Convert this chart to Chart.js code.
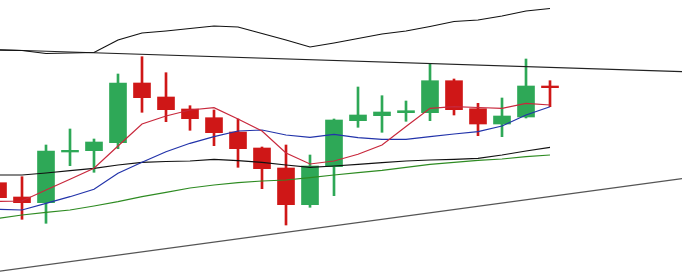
<!DOCTYPE html>
<html>
<head>
<meta charset="utf-8">
<script src="https://cdn.jsdelivr.net/npm/chart.js@4.4.1/dist/chart.umd.min.js"></script>
<style>
html,body{margin:0;padding:0;background:#fff;overflow:hidden;}
#wrap{width:682px;height:275px;position:relative;}
</style>
</head>
<body>
<div id="wrap"><canvas id="c"></canvas></div>
<script>
// Candle index (session number)
const sessions = [0,1,2,3,4,5,6,7,8,9,10,11,12,13,14,15,16,17,18,19,20,21,22,23];
// OHLC values
const opens  = [92.3,78.0,72.3,123.0,124.3,132.3,192.0,178.0,166.0,157.3,143.0,127.0,107.0,70.3,108.3,154.3,159.3,162.3,162.3,194.3,166.3,151.0,158.0,189.0];
const highs  = [99.0,98.3,130.0,146.0,136.0,201.0,218.3,202.3,169.3,165.0,156.0,128.0,130.0,120.0,156.0,188.0,179.3,174.0,211.7,196.0,171.7,177.0,216.0,194.3];
const lows   = [71.0,55.7,51.7,109.3,102.7,126.3,162.7,153.3,144.7,129.3,107.7,86.3,50.0,67.7,79.3,147.7,142.7,153.7,154.3,160.0,139.3,138.3,157.0,168.3];
const closes = [77.3,72.3,124.0,124.7,133.0,192.0,177.3,165.3,156.3,142.3,126.3,106.3,70.3,109.0,155.0,160.0,163.0,164.3,194.3,165.3,151.0,159.0,189.0,187.3];
// Moving averages / bands
const maShort  = [73.5,74,85,95.7,106.7,129,151,159,165,167.3,156,144,122,111,114,120.7,130,148.5,166.7,168.3,167.5,166.7,171.7,170];
const maMid    = [65.7,65,71.7,78.3,85.7,101.7,112.7,123.3,131.7,138.3,144,145,140,137.7,140.7,137.3,135.7,135.7,138.3,141,143.3,149,160,168.3];
const maLong   = [100,100,102,104.3,106.7,110,112.7,113.5,114,115.7,114.3,112.7,110,107.7,109,110.7,112.3,114,115,115.7,116.7,120,124,127.7];
const maSlow   = [56.7,60,62.7,65,69,73.3,78.3,82.7,87,90,92.3,94,95,97.3,100,102.3,104.7,107.7,110.7,112.7,114.7,116,118.3,120];
const upperBand = [225,224.5,221.5,222,222.5,235,242,244,246.5,249,248,241.5,235,228,232,236.5,241,244,248.5,253.5,255,259,264,266.5];
// Trend lines: [x, value] end points
const trendTopX = [0, 28.5];
const trendTopY = [225.3, 203.4];
const trendLowX = [0, 28.5];
const trendLowY = [3.7, 96.4];

const UP = '#2ea857', DOWN = '#cf1717';
const colorFor = sessions.map((s,i)=> closes[i] >= opens[i] ? UP : DOWN);
const pts = arr => sessions.map((s,i)=>({x:s, y:arr[i]}));
const lineDs = (arr, color, w) => ({type:'line', data: pts(arr), borderColor: color, borderWidth: w, pointRadius: 0, tension: 0, fill:false, order: 0});

new Chart(document.getElementById('c'), {
  type: 'bar',
  data: {
    datasets: [
      lineDs(maShort, '#c8283c', 1.2),
      lineDs(maMid, '#2233aa', 1.2),
      lineDs(maLong, '#111111', 1.2),
      lineDs(maSlow, '#2e8b22', 1.2),
      lineDs(upperBand, '#111111', 1.2),
      {type:'line', data: trendTopX.map((x,i)=>({x, y: trendTopY[i]})), borderColor:'#222222', borderWidth:1.2, pointRadius:0, order:0},
      {type:'line', data: trendLowX.map((x,i)=>({x, y: trendLowY[i]})), borderColor:'#555555', borderWidth:1.2, pointRadius:0, order:0},
      {type:'bar', data: sessions.map((s,i)=>({x:s, y:[opens[i], closes[i]]})), backgroundColor: colorFor, borderWidth:0, barThickness:17, grouped:false, order:1},
      {type:'bar', data: sessions.map((s,i)=>({x:s, y:[lows[i], highs[i]]})), backgroundColor: colorFor, borderWidth:0, barThickness:2, grouped:false, order:2}
    ]
  },
  options: {
    responsive: true,
    maintainAspectRatio: false,
    animation: false,
    layout: {padding: 0},
    plugins: {legend:{display:false}, tooltip:{enabled:false}},
    scales: {
      x: {type:'linear', min: 2/24, max: 28.5, offset:false, display:false},
      y: {type:'linear', min: 0, max: 275, display:false}
    }
  }
});
</script>
</body>
</html>
